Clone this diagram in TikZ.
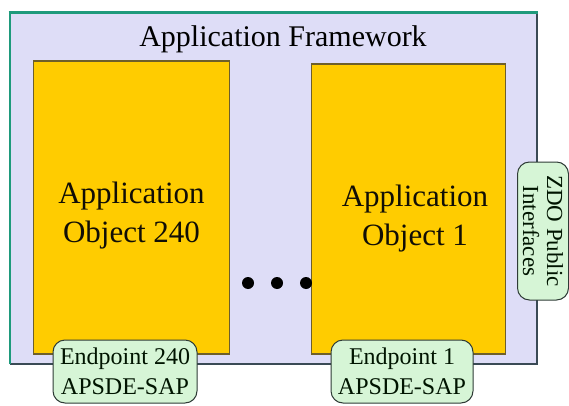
\documentclass[tikz,border=0pt]{standalone}
\usepackage{fontspec}
\setmainfont{Liberation Serif}
\definecolor{frameFill}{HTML}{DEDDF7}
\definecolor{frameTop}{HTML}{1E9A7C}
\definecolor{frameEdge}{HTML}{3A4A55}
\definecolor{objFill}{HTML}{FFCC00}
\definecolor{objEdge}{HTML}{6E5F2A}
\definecolor{sapFill}{HTML}{D6F5D6}
\definecolor{sapEdge}{HTML}{2E3B36}
\tikzset{
  objbox/.style={draw=objEdge, line width=1.3pt, fill=objFill, rectangle, inner sep=0pt},
  objtext/.style={align=center, font=\fontsize{31}{39}\selectfont, text=black!85!objEdge, inner sep=0pt},
  sapbox/.style={draw=sapEdge, line width=1pt, fill=sapFill, rounded corners=12pt, rectangle,
    inner sep=0pt, align=center, font=\fontsize{24}{30}\selectfont, text=black!80!green!40!black},
  dotmark/.style={circle, fill=black, inner sep=0pt, minimum size=12pt}
}
\begin{document}
\begin{tikzpicture}[x=1pt, y=-1pt]
  \useasboundingbox (0,0) rectangle (569,406);

  % framework frame
  \path[fill=frameFill] (10,13) rectangle (537,364);
  \draw[frameEdge, line width=1.6pt] (10,364) -- (537,364) -- (537,13);
  \draw[frameTop, line width=1.8pt] (10,364) -- (10,13);
  \draw[frameTop, line width=3pt] (8.5,13) -- (538,13);
  \node[anchor=base, font=\fontsize{30}{36}\selectfont, inner sep=0pt] (title) at (283,47) {Application Framework};

  % application objects
  \node[objbox, minimum width=196pt, minimum height=293pt] (obj240) at (131.5,207.5) {};
  \node[objbox, minimum width=194pt, minimum height=290pt] (obj1) at (408.5,209) {};
  \node[objtext] (lbl240) at (131.5,216) {Application\\ Object 240};
  \node[objtext] (lbl1) at (415,219) {Application\\ Object 1};

  % ellipsis between the objects
  \node[dotmark] (d1) at (248,283) {};
  \node[dotmark] (d2) at (277,283) {};
  \node[dotmark] (d3) at (306,283) {};

  % service access points
  \node[sapbox, minimum width=144pt, minimum height=63pt] (ep240) at (125,371.5) {Endpoint 240\\APSDE-SAP};
  \node[sapbox, minimum width=142pt, minimum height=63pt] (ep1) at (402,371.5) {Endpoint 1\\APSDE-SAP};
  \node[sapbox, rotate=-90, minimum width=138pt, minimum height=51pt,
        font=\fontsize{23}{24}\selectfont] (zdo) at (543,231) {ZDO Public\\Interfaces};
\end{tikzpicture}
\end{document}
